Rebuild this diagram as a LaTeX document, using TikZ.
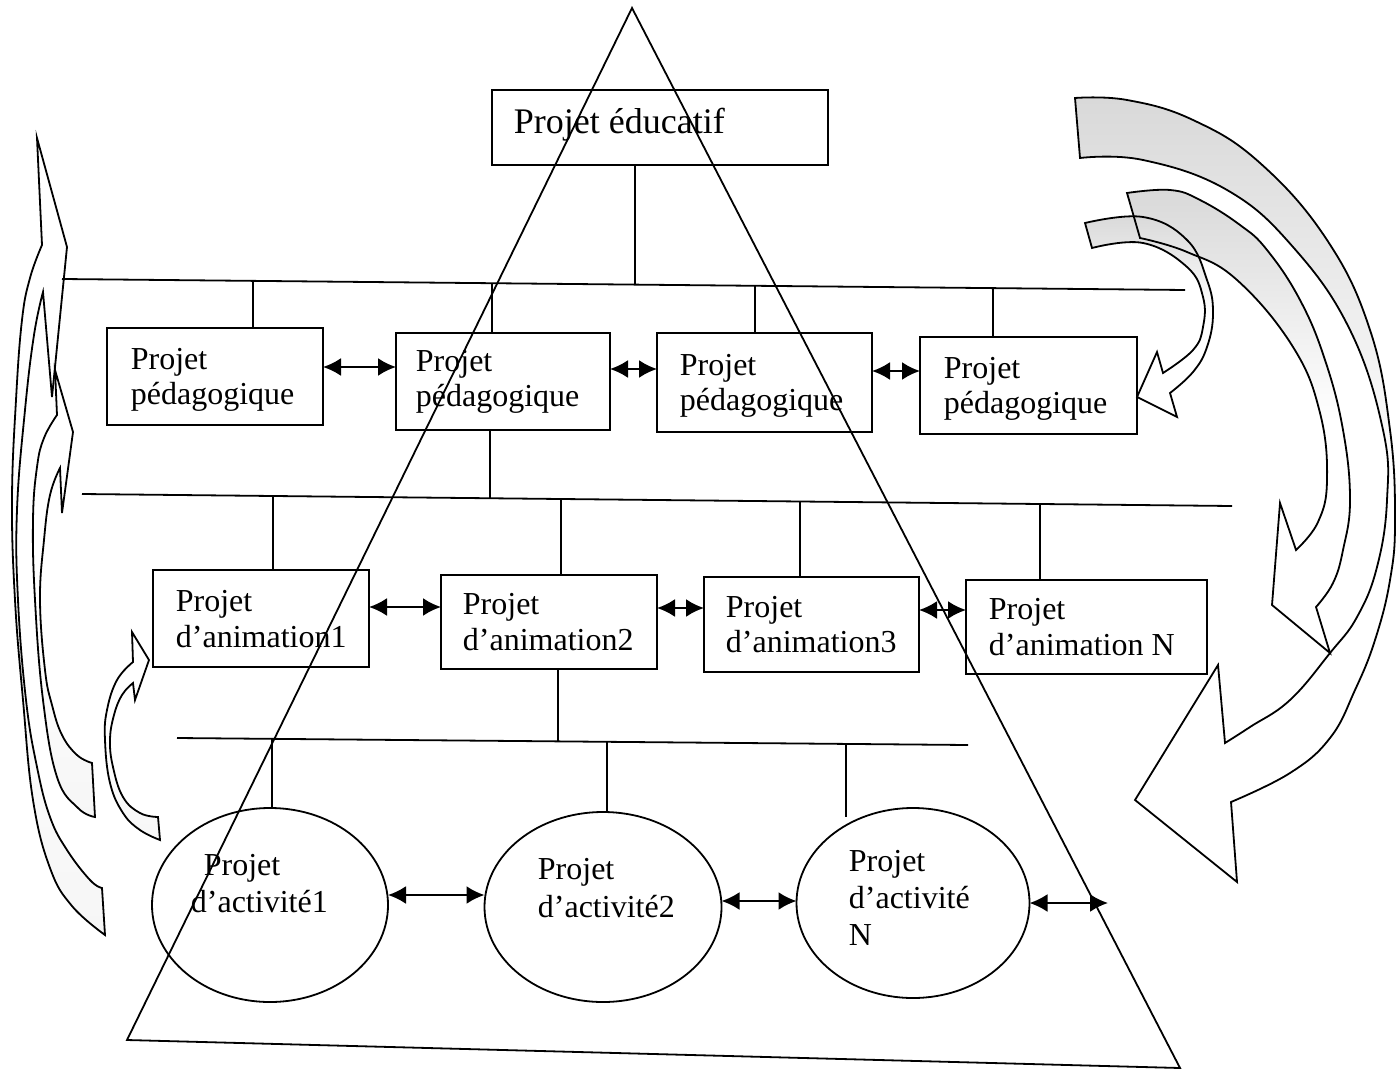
\documentclass[tikz,border=0pt]{standalone}
\usepackage{fontspec}
\setmainfont{Liberation Serif}
\usetikzlibrary{shapes.geometric,arrows.meta}
\begin{document}
\begin{tikzpicture}[x=0.5pt,y=-0.5pt, line width=0.9pt,
  box/.style={draw, rectangle, anchor=north west, inner sep=0pt, outer sep=0pt},
  oval/.style={draw, ellipse, inner sep=0pt, outer sep=0pt},
  txt/.style={anchor=base west, inner sep=0pt, font=\fontsize{16}{18}\selectfont},
  dbl/.style={{Latex[length=9pt,width=9pt]}-{Latex[length=9pt,width=9pt]}, line width=1.1pt},
  barrow/.style={line width=0.9pt, line join=miter},
  shadeR/.style={top color=gray!30, bottom color=white, middle color=white},
  shadeL/.style={top color=white, bottom color=gray!7, middle color=white}]
\useasboundingbox (0,0) rectangle (1400,1069);

% ---------- curved block arrows (shaded, paths saved) ----------
\path[save path=\pA, shadeL] plot[smooth,tension=0.7] coordinates {(105,935) (72,906) (50,868) (33,800) (23,700) (15,600) (12,500) (16,400) (22,320) (30,278) (42,245)}
  -- (37,138) -- (67,247) -- (52,397)
  -- plot[smooth,tension=0.7] coordinates {(43,292) (34,335) (25,410) (17,510) (18,600) (26,700) (37,767) (50,817) (67,850) (90,880) (102,888)} -- cycle;
\path[save path=\pB, shadeL] plot[smooth,tension=0.7] coordinates {(95,817) (78,808) (57,777) (43,700) (35,600) (33,520) (37,467) (44,438) (57,415)}
  -- (55,370) -- (73,432) -- (62,513)
  -- plot[smooth,tension=0.7] coordinates {(60,468) (50,495) (44,540) (40,600) (45,670) (52,705) (62,735) (77,755) (92,763)} -- cycle;
\path[save path=\pC, shadeL] plot[smooth,tension=0.7] coordinates {(160,840) (140,830) (123,813) (110,783) (105,740) (107,710) (117,680) (133,662)}
  -- (132,632) -- (149,660) -- (135,700)
  -- plot[smooth,tension=0.7] coordinates {(133,683) (122,695) (114,715) (110,740) (113,767) (123,797) (140,813) (158,817)} -- cycle;
\path[save path=\pD, shadeR] plot[smooth,tension=0.7] coordinates {(1075,98) (1127,100) (1193,120) (1260,163) (1327,240) (1370,330) (1390,430) (1395,520) (1390,580) (1375,640) (1355,690) (1330,738) (1290,773) (1231,802)}
  -- (1237,882) -- (1135,800) -- (1218,665)
  -- plot[smooth,tension=0.7] coordinates {(1225,743) (1250,727) (1290,700) (1330,653) (1357,617) (1377,567) (1387,500) (1383,430) (1350,330) (1293,247) (1227,190) (1143,160) (1080,158)} -- cycle;
\path[save path=\pE, shadeR] plot[smooth,tension=0.7] coordinates {(1127,193) (1170,190) (1200,200) (1240,225) (1267,250) (1300,300) (1325,360) (1343,430) (1350,500) (1343,550) (1333,583) (1316,607)}
  -- (1330,653) -- (1272,605) -- (1280,503)
  -- plot[smooth,tension=0.7] coordinates {(1296,550) (1318,522) (1327,480) (1320,413) (1293,347) (1237,280) (1187,252) (1140,238)} -- cycle;
\path[save path=\pF, shadeR] plot[smooth,tension=0.7] coordinates {(1085,223) (1143,217) (1187,240) (1207,280) (1213,313) (1207,347) (1193,372) (1170,393)}
  -- (1177,417) -- (1137,397) -- (1157,352)
  -- plot[smooth,tension=0.7] coordinates {(1163,373) (1193,350) (1203,327) (1203,297) (1187,267) (1143,243) (1092,248)} -- cycle;

\draw[barrow, use path=\pA];
\draw[barrow, use path=\pB];
\draw[barrow, use path=\pC];
\draw[barrow, use path=\pD];
\draw[barrow, use path=\pE];
\draw[barrow, use path=\pF];

% ---------- triangle ----------
\draw (632,8) -- (127,1040) -- (1180,1068) -- cycle;

% ---------- boxes ----------
\node[box, minimum width=168pt, minimum height=37.5pt] (edu) at (492,90) {};
\node[box, minimum width=108pt, minimum height=48.5pt] (p1) at (107,328) {};
\node[box, minimum width=107pt, minimum height=48.5pt] (p2) at (396,333) {};
\node[box, minimum width=107.5pt, minimum height=49.5pt] (p3) at (657,333) {};
\node[box, minimum width=108.5pt, minimum height=48.5pt] (p4) at (920,337) {};
\node[box, minimum width=108pt, minimum height=48.5pt] (a1) at (153,570) {};
\node[box, minimum width=108pt, minimum height=47pt] (a2) at (441,575) {};
\node[box, minimum width=107.5pt, minimum height=47.5pt] (a3) at (704,577) {};
\node[box, minimum width=120.5pt, minimum height=47pt] (a4) at (966,580) {};
\node[oval, minimum width=118pt, minimum height=97pt] (e1) at (270,905) {};
\node[oval, minimum width=118.5pt, minimum height=95pt] (e2) at (603,907) {};
\node[oval, minimum width=116.5pt, minimum height=95pt] (e3) at (913,903) {};

% ---------- texts ----------
\node[txt, font=\fontsize{18}{20}\selectfont] (tedu) at (513,134) {Projet éducatif};
\node[txt] (tp1a) at (130,369) {Projet};
\node[txt] (tp1b) at (130,404) {pédagogique};
\node[txt] (tp2a) at (415,371) {Projet};
\node[txt] (tp2b) at (415,406) {pédagogique};
\node[txt] (tp3a) at (679,375) {Projet};
\node[txt] (tp3b) at (679,410) {pédagogique};
\node[txt] (tp4a) at (943,378) {Projet};
\node[txt] (tp4b) at (943,413) {pédagogique};
\node[txt] (ta1a) at (175,611) {Projet};
\node[txt] (ta1b) at (175,647) {d’animation1};
\node[txt] (ta2a) at (462,614) {Projet};
\node[txt] (ta2b) at (462,650) {d’animation2};
\node[txt] (ta3a) at (725,617) {Projet};
\node[txt] (ta3b) at (725,652) {d’animation3};
\node[txt] (ta4a) at (988,619) {Projet};
\node[txt] (ta4b) at (988,655) {d’animation N};
\node[txt] (te1a) at (203,875) {Projet};
\node[txt] (te1b) at (190,912) {d’activité1};
\node[txt] (te2a) at (537,879) {Projet};
\node[txt] (te2b) at (537,917) {d’activité2};
\node[txt] (te3a) at (848,871) {Projet};
\node[txt] (te3b) at (848,908) {d’activité};
\node[txt] (te3c) at (848,945) {N};

% ---------- tree connectors ----------
\coordinate (l1a) at (62,279);  \coordinate (l1b) at (1185,290);
\coordinate (l2a) at (82,494);  \coordinate (l2b) at (1232,506);
\coordinate (l3a) at (177,738); \coordinate (l3b) at (968,745);
\draw (l1a) -- (l1b);
\draw (l2a) -- (l2b);
\draw (l3a) -- (l3b);
\draw (edu.south -| 635,0) -- (635,284.6);
\draw (253,280.9) -- (p1.north -| 253,0);
\draw (492,283.2) -- (p2.north -| 492,0);
\draw (755,285.8) -- (p3.north -| 755,0);
\draw (993,288.1) -- (p4.north -| 993,0);
\draw (p2.south -| 490,0) -- (490,498.3);
\draw (273,496) -- (a1.north -| 273,0);
\draw (561,499) -- (a2.north -| 561,0);
\draw (800,501.5) -- (a3.north -| 800,0);
\draw (1040,504) -- (a4.north -| 1040,0);
\draw (a2.south -| 558,0) -- (558,741.4);
\draw (272,738.8) -- (272,809);
\draw (607,741.8) -- (607,812);
\draw (846,743.9) -- (846,817);

% ---------- double arrows ----------
\coordinate (free) at (1108,903);
\draw[dbl] (p1.east |- 0,367) -- (p2.west |- 0,367);
\draw[dbl] (p2.east |- 0,369) -- (p3.west |- 0,369);
\draw[dbl] (p3.east |- 0,371) -- (p4.west |- 0,371);
\draw[dbl] (a1.east |- 0,607) -- (a2.west |- 0,607);
\draw[dbl] (a2.east |- 0,608) -- (a3.west |- 0,608);
\draw[dbl] (a3.east |- 0,610) -- (a4.west |- 0,610);
\draw[dbl] (e1.east |- 0,895) -- (e2.west |- 0,895);
\draw[dbl] (e2.east |- 0,901) -- (e3.west |- 0,901);
\draw[dbl] (e3.east) -- (free);
\end{tikzpicture}
\end{document}
